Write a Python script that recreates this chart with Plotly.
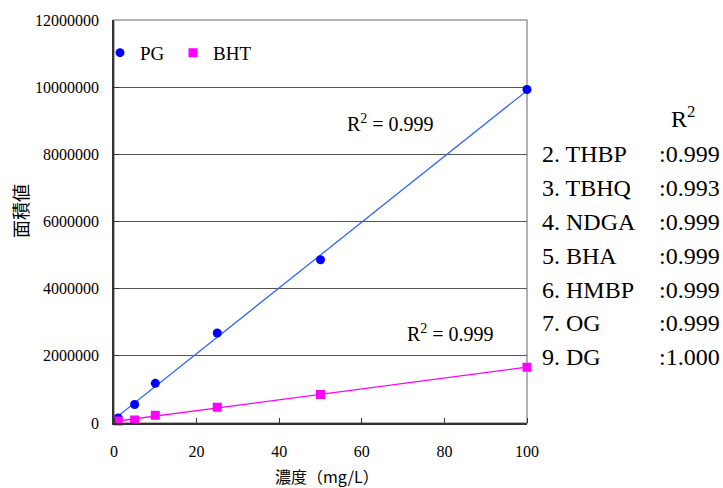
import numpy as np
import plotly.graph_objects as go

# ---- data ----
conc = [1, 5, 10, 25, 50, 100]                     # mg/L
pg_area = [150000, 550000, 1180000, 2680000, 4860000, 9930000]
bht_area = [60000, 90000, 230000, 470000, 850000, 1660000]
series_names = ["PG", "BHT"]
r2_main = ["0.999", "0.999"]
other_names = ["2. THBP", "3. TBHQ", "4. NDGA", "5. BHA", "6. HMBP", "7. OG", "9. DG"]
other_r2 = ["0.999", "0.993", "0.999", "0.999", "0.999", "0.999", "1.000"]
x_ticks = [0, 20, 40, 60, 80, 100]
y_ticks = [0, 2000000, 4000000, 6000000, 8000000, 10000000, 12000000]

SERIF = "Liberation Serif"
CJK = "Noto Sans CJK JP"

# plot area pixel geometry (for paper-coord text placement)
L, R, T, B = 114, 527, 18, 423
W, H = R - L, B - T
def px(x):
    return (x - L) / W
def py(y):
    return (B - y) / H

fig = go.Figure()

# trend lines (least squares fits of the data)
xfit = np.array([0, max(conc)])
for ys, col in [(pg_area, "#3366FF"), (bht_area, "#FF00FF")]:
    k, b0 = np.polyfit(conc, ys, 1)
    fig.add_trace(go.Scatter(x=xfit, y=k * xfit + b0, mode="lines",
                             line=dict(color=col, width=1.3),
                             showlegend=False, hoverinfo="skip", cliponaxis=False))

fig.add_trace(go.Scatter(x=conc, y=pg_area, mode="markers", name=series_names[0],
                         marker=dict(symbol="circle", size=9, color="#0000FF"),
                         cliponaxis=False, legend="legend"))
fig.add_trace(go.Scatter(x=conc, y=bht_area, mode="markers", name=series_names[1],
                         marker=dict(symbol="square", size=9, color="#FF00FF"),
                         cliponaxis=False, legend="legend2"))

def ann(x, y, text, size, family=SERIF, xanchor="center", **kw):
    return dict(x=px(x), y=py(y), xref="paper", yref="paper", text=text,
                showarrow=False, xanchor=xanchor, yanchor="middle",
                font=dict(family=family, size=size, color="black"), **kw)

annotations = []
# R^2 labels on the chart
annotations.append(ann(390, 122, "R<sup>2</sup> = " + r2_main[0], 20))
annotations.append(ann(450, 333, "R<sup>2</sup> = " + r2_main[1], 20))
# right side table
annotations.append(ann(683, 115, "R<sup>2</sup>", 24))
row_y = [153, 187, 221, 255, 289, 323, 357]
for nm, val, yy in zip(other_names, other_r2, row_y):
    annotations.append(ann(540, yy, nm, 24, xanchor="left"))
    annotations.append(ann(657, yy, ":" + val, 24, xanchor="left"))
# axis titles
annotations.append(ann(20, 210, "面積値", 18, family=CJK, textangle=-90))
annotations.append(ann(327, 476, "濃度（mg/L）", 16, family=CJK))

legend_common = dict(orientation="h", xanchor="left", y=py(51), yanchor="middle",
                     bgcolor="rgba(0,0,0,0)",
                     font=dict(family=SERIF, size=19, color="black"))

fig.update_layout(
    width=723, height=488,
    margin=dict(l=L, r=723 - R, t=T, b=488 - B),
    paper_bgcolor="white", plot_bgcolor="white",
    showlegend=True,
    legend=dict(x=px(100), **legend_common),
    legend2=dict(x=px(173), **legend_common),
    annotations=annotations,
    shapes=[dict(type="rect", xref="paper", yref="paper", x0=0, y0=0, x1=1, y1=1,
                 line=dict(color="#999999", width=1.5), layer="below")],
    xaxis=dict(range=[0, 100], tickvals=x_ticks, ticks="outside", ticklen=13,
               tickcolor="rgba(0,0,0,0)", showgrid=False, zeroline=False,
               showline=True, linecolor="#333", linewidth=1.5,
               minor=dict(tickvals=x_ticks, ticks="inside", ticklen=5, tickcolor="#333",
                          showgrid=False),
               tickfont=dict(family=SERIF, size=16, color="black")),
    yaxis=dict(range=[0, 12000000], tickvals=y_ticks, tickformat="d",
               ticks="inside", ticklen=5, tickcolor="#333",
               showgrid=True, gridcolor="#555555", gridwidth=1, zeroline=False,
               showline=True, linecolor="#333", linewidth=1.5,
               tickfont=dict(family=SERIF, size=16, color="black"),
               ticklabelstandoff=10),
)

fig.write_html("out.html", config={"displayModeBar": False},
               post_script="document.body.style.margin='0';")
